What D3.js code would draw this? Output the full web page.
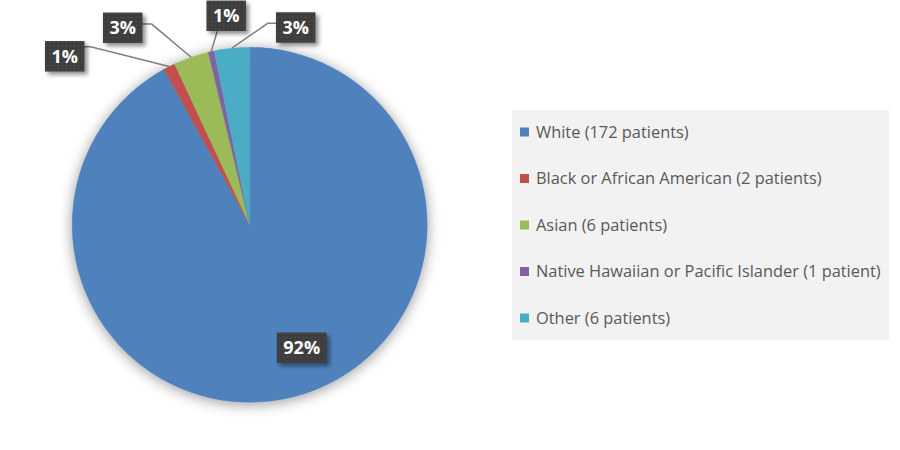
<!DOCTYPE html>
<html>
<head>
<meta charset="utf-8">
<script src="https://cdn.jsdelivr.net/npm/d3@7"></script>
<style>
	html, body { margin: 0; padding: 0; background: #fff; }
	svg { display: block; }
	.legend_text { font-family: "Open Sans", Lato, sans-serif; font-size: 16.4px; fill: #595959; }
	.pct_text { font-family: "Open Sans", Lato, sans-serif; font-size: 18px; font-weight: bold; fill: #fff; }
</style>
</head>
<body>
<div id="chart"></div>
<script>
// donnees
const categories = ["White", "Black or African American", "Asian", "Native Hawaiian or Pacific Islander", "Other"];
const patients = [172, 2, 6, 1, 6];
const legendLabels = [
	"White (172 patients)",
	"Black or African American (2 patients)",
	"Asian (6 patients)",
	"Native Hawaiian or Pacific Islander (1 patient)",
	"Other (6 patients)"
];
const colors = ["#4f81bd", "#c0504d", "#9bbb59", "#8064a2", "#4bacc6"];

// placement des etiquettes (decalage depuis le centre du camembert)
const labelLayout = [
	{ dx: 52, dy: 123, attach: null, stub: 0 },
	{ dx: -185, dy: -168.5, attach: [19, -9.5], stub: 7 },
	{ dx: -127, dy: -197, attach: [19, -3.7], stub: 10 },
	{ dx: -23.5, dy: -209, attach: [-9, 15.5], stub: 0 },
	{ dx: 46, dy: -197.3, attach: [-19, -4.2], stub: -9 }
];

const width = 900, height = 450;
const cx = 249.7, cy = 224.8, radius = 177.5;

const svg = d3.select("#chart")
	.append("svg")
	.attr("width", width)
	.attr("height", height)
	.attr("viewBox", `0 0 ${width} ${height}`);

const defs = svg.append("defs");

const pieShadow = defs.append("filter")
	.attr("id", "pieShadow")
	.attr("x", "-20%").attr("y", "-20%")
	.attr("width", "140%").attr("height", "140%");
pieShadow.append("feGaussianBlur").attr("in", "SourceAlpha").attr("stdDeviation", 7).attr("result", "blur");
pieShadow.append("feOffset").attr("in", "blur").attr("dx", 0).attr("dy", 2).attr("result", "off");
pieShadow.append("feComponentTransfer").attr("in", "off").attr("result", "soft")
	.append("feFuncA").attr("type", "linear").attr("slope", 0.4);
const m1 = pieShadow.append("feMerge");
m1.append("feMergeNode").attr("in", "soft");
m1.append("feMergeNode").attr("in", "SourceGraphic");

const boxShadow = defs.append("filter")
	.attr("id", "boxShadow")
	.attr("x", "-30%").attr("y", "-30%")
	.attr("width", "170%").attr("height", "170%");
boxShadow.append("feGaussianBlur").attr("in", "SourceAlpha").attr("stdDeviation", 2).attr("result", "blur");
boxShadow.append("feOffset").attr("in", "blur").attr("dx", 2.5).attr("dy", 2.5).attr("result", "off");
boxShadow.append("feComponentTransfer").attr("in", "off").attr("result", "soft")
	.append("feFuncA").attr("type", "linear").attr("slope", 0.45);
const m2 = boxShadow.append("feMerge");
m2.append("feMergeNode").attr("in", "soft");
m2.append("feMergeNode").attr("in", "SourceGraphic");

const dots = defs.append("pattern")
	.attr("id", "dots")
	.attr("width", 4).attr("height", 4)
	.attr("patternUnits", "userSpaceOnUse");
dots.append("rect").attr("width", 4).attr("height", 4).attr("fill", "#3d3d3d");
dots.append("rect").attr("x", 1).attr("y", 1).attr("width", 1.2).attr("height", 1.2).attr("fill", "#555");

const total = d3.sum(patients);
const data = categories.map((c, i) => ({ cat: c, value: patients[i], color: colors[i], legend: legendLabels[i], layout: labelLayout[i] }));

const pie = d3.pie().sort(null).value(d => d.value).startAngle(0).endAngle(2 * Math.PI);
const arc = d3.arc().innerRadius(0).outerRadius(radius);
const arcs = pie(data);

const g = svg.append("g").attr("transform", `translate(${cx}, ${cy})`);

g.append("g")
	.attr("class", "slices")
	.attr("filter", "url(#pieShadow)")
	.selectAll("path")
	.data(arcs)
	.join("path")
	.attr("d", arc)
	.attr("fill", d => d.data.color)
	.attr("stroke", d => d.data.color)
	.attr("stroke-width", 0.5);

// lignes de rappel
const edgePoint = d => {
	const a = (d.startAngle + d.endAngle) / 2;
	return [radius * Math.sin(a), -radius * Math.cos(a)];
};

g.append("g")
	.attr("class", "leaders")
	.selectAll("polyline")
	.data(arcs.filter(d => d.data.layout.attach))
	.join("polyline")
	.attr("fill", "none")
	.attr("stroke", "#7f7f7f")
	.attr("stroke-width", 1.5)
	.attr("points", d => {
		const l = d.data.layout;
		const p0 = [l.dx + l.attach[0], l.dy + l.attach[1]];
		const p1 = [p0[0] + l.stub, p0[1]];
		return [p0, p1, edgePoint(d)].map(p => p.join(",")).join(" ");
	});

// etiquettes en pourcentage
const labels = g.append("g")
	.attr("class", "labels")
	.selectAll("g")
	.data(arcs)
	.join("g")
	.attr("transform", d => `translate(${d.data.layout.dx}, ${d.data.layout.dy})`);

labels.append("text")
	.attr("class", "pct_text")
	.attr("text-anchor", "middle")
	.attr("dy", "0.36em")
	.text(d => Math.round(d.value / total * 100) + "%");

labels.each(function () {
	const grp = d3.select(this);
	const bb = grp.select("text").node().getBBox();
	const w = bb.width + 13, h = 30.5;
	grp.insert("rect", "text")
		.attr("x", -w / 2)
		.attr("y", -h / 2)
		.attr("width", w)
		.attr("height", h)
		.attr("fill", "url(#dots)")
		.attr("filter", "url(#boxShadow)");
});

// legende
const legend = svg.append("g").attr("class", "legend");
legend.append("rect")
	.attr("x", 512)
	.attr("y", 110)
	.attr("width", 377)
	.attr("height", 230)
	.attr("fill", "#f2f2f2");

const ly = d3.scalePoint()
	.domain(categories)
	.range([132, 318]);

const items = legend.selectAll("g.item")
	.data(data)
	.join("g")
	.attr("class", "item")
	.attr("transform", d => `translate(520, ${ly(d.cat)})`);

items.append("rect")
	.attr("x", 0)
	.attr("y", -4.5)
	.attr("width", 9)
	.attr("height", 9)
	.attr("fill", d => d.color);

items.append("text")
	.attr("class", "legend_text")
	.attr("x", 16)
	.attr("dy", "0.36em")
	.text(d => d.legend);
</script>
</body>
</html>
